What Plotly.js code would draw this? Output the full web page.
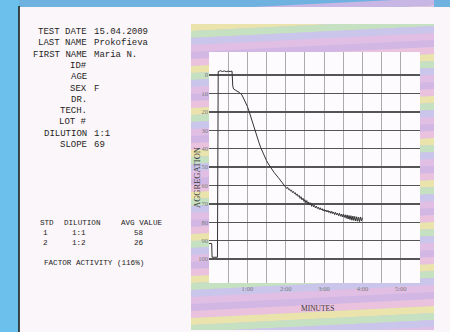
<!DOCTYPE html>
<html>
<head>
<meta charset="utf-8">
<script src="https://cdn.plot.ly/plotly-3.0.1.min.js"></script>
<style>html,body{margin:0;padding:0;background:#6cc0ec;}#chart{width:450px;height:332px;}</style>
</head>
<body>
<div id="chart"></div>
<script>
// ---- data ----
const timeMin = [0.00,0.07,0.08,0.21,0.22,0.24,0.30,0.35,0.40,0.45,0.50,0.55,0.60,0.62,0.64,0.70,0.75,0.80,0.86,0.90,0.95,1.00,1.05,1.10,1.15,1.20,1.25,1.30,1.35,1.40,1.45,1.50,1.55,1.60,1.70,1.80,1.90,
2.000,2.025,2.050,2.075,2.100,2.125,2.150,2.175,2.200,2.225,2.250,2.275,2.300,2.325,2.350,2.375,2.400,2.425,2.450,2.475,2.500,2.525,2.550,2.575,2.600,2.625,2.650,2.675,2.700,2.725,2.750,2.775,2.800,2.825,2.850,2.875,2.900,2.925,2.950,2.975,3.000,3.025,3.050,3.075,3.100,3.125,3.150,3.175,3.200,3.225,3.250,3.275,3.300,3.325,3.350,3.375,3.400,3.425,3.450,3.475,3.500,3.525,3.550,3.575,3.600,3.625,3.650,3.675,3.700,3.725,3.750,3.775,3.800,3.825,3.850,3.875,3.900,3.925,3.950,3.975,4.000];
const aggregation = [91.5,91.5,99,99,99,-2,-2.4,-2.0,-2.3,-1.9,-2.2,-2.0,-2.2,6,7.5,8.3,8.8,9.5,10.8,12.5,14.5,17,20,23.5,26.5,30,33.5,36.5,39.5,42,44.5,46.5,48.3,50,53,55.5,58,
60.9,61.6,61.0,62.2,61.9,63.0,62.5,63.8,63.2,64.4,63.9,65.3,64.6,66.0,65.4,67.0,66.1,67.8,66.9,68.6,67.7,69.4,68.2,70.1,69.0,70.6,69.4,71.3,70.0,71.6,70.8,72.2,71.2,72.5,71.8,73.0,72.1,73.3,72.6,73.8,72.9,74.1,73.3,74.4,73.5,74.7,73.9,75.1,74.0,75.3,74.4,75.8,74.6,76.0,75.0,76.4,75.1,76.7,75.5,77.1,75.6,77.3,75.9,77.8,76.0,78.2,76.3,78.5,76.4,78.9,76.6,79.0,76.8,79.3,77.0,79.4,77.2,79.6,77.1,79.2,77.5];

const xTickVals = [0,0.5,1,1.5,2,2.5,3,3.5,4,4.5,5,5.5];
const xTickText = ['','','1:00','','2:00','','3:00','','4:00','','5:00',''];
const yTickVals = [0,10,20,30,40,50,60,70,80,90,100];

const infoLabels = ['TEST DATE','LAST NAME','FIRST NAME','ID#','AGE','SEX','DR.','TECH.','LOT #','DILUTION','SLOPE'];
const infoValues = ['15.04.2009','Prokofieva','Maria N.','','','F','','','','1:1','69'];

const tableHeader = ['STD','DILUTION','AVG VALUE'];
const stdIds = ['1','2'];
const stdDilutions = ['1:1','1:2'];
const stdAvgValues = ['58','26'];
const factorText = 'FACTOR ACTIVITY (116%)';

// ---- layout helpers (pixel -> paper) ----
const W=450,H=332,ML=209,MR=30,MT=52,MB=49;
const PW=W-ML-MR, PH=H-MT-MB;
const xp = x => (x-ML)/PW;
const yp = y => (H-MB-y)/PH;

const shapes = [];
const rect = (x0,y0,x1,y1,fill) => shapes.push({type:'rect',xref:'paper',yref:'paper',x0:xp(x0),x1:xp(x1),y0:yp(y1),y1:yp(y0),fillcolor:fill,line:{width:0},layer:'below'});
// blue top strip and paper sheet
rect(19,0,450,7,'#70b2df');
rect(19,7,450,332,'#fbf6f9');
shapes.push({type:'line',xref:'paper',yref:'paper',x0:xp(19),x1:xp(19),y0:yp(332),y1:yp(6),line:{color:'#1e1e1e',width:1.6},layer:'below'});
// rainbow frame
rect(191,24,434,330,'#d4c2e2');
const bandColors = ['#d2b6e6','#ecc2de','#ece8a6','#c4e3bf','#c9c6ec','#e2bfe4'];
for (let i=0;i<48;i++){
  const y = 10 + i*7;
  const c = bandColors[i%bandColors.length];
  const p = `M ${xp(191)},${yp(y)} L ${xp(434)},${yp(y-12)} L ${xp(434)},${yp(y-5)} L ${xp(191)},${yp(y+7)} Z`;
  shapes.push({type:'path',xref:'paper',yref:'paper',path:p,fillcolor:c,opacity:0.9,line:{width:0},layer:'below'});
}
rect(185,7,440,24,'#fbf6f9');
rect(185,330,440,332,'#fbf6f9');
rect(434,7,450,332,'#fbf6f9');
rect(185,7,191,332,'#fbf6f9');
// white plotting area
rect(209,52,420,283,'#fdfbfd');

const annotations = [];
const txt = (x,y,text,opts) => annotations.push(Object.assign({xref:'paper',yref:'paper',x:xp(x),y:yp(y),text:text,showarrow:false,yanchor:'middle',borderpad:0,
  font:{family:'Liberation Mono, monospace',size:9,color:'#1f1f1f'}},opts||{}));

infoLabels.forEach((lab,i)=>{
  const y = 32 + i*11.3;
  txt(88,y,lab,{xanchor:'right'});
  if (infoValues[i]) txt(93,y,infoValues[i],{xanchor:'left'});
});
const smallFont = {family:'Liberation Mono, monospace',size:7.6,color:'#222'};
txt(39,223.3,tableHeader[0],{xanchor:'left',font:smallFont});
txt(63,223.3,tableHeader[1],{xanchor:'left',font:smallFont});
txt(120,223.3,tableHeader[2],{xanchor:'left',font:smallFont});
stdIds.forEach((s,i)=>{
  const y = 233.3 + i*10;
  txt(45,y,s,{xanchor:'center',font:smallFont});
  txt(78.5,y,stdDilutions[i],{xanchor:'center',font:smallFont});
  txt(138.5,y,stdAvgValues[i],{xanchor:'center',font:smallFont});
});
txt(43,263.3,factorText,{xanchor:'left',font:smallFont});

// axis titles
txt(197,178,'AGGREGATION',{xanchor:'center',textangle:-90,font:{family:'Liberation Serif, serif',size:8.5,color:'#3a3a3a'}});
txt(317,308,'MINUTES',{xanchor:'center',font:{family:'Liberation Serif, serif',size:7.5,color:'#3a3a3a'}});

const trace = {
  type:'scatter', mode:'lines', x:timeMin, y:aggregation,
  line:{color:'#333',width:1}, hoverinfo:'skip'
};

const layout = {
  width:W,height:H,
  margin:{l:ML,r:MR,t:MT,b:MB,pad:0},
  paper_bgcolor:'#6cc0ec',
  plot_bgcolor:'rgba(0,0,0,0)',
  showlegend:false,
  xaxis:{range:[0,5.5],tickvals:xTickVals,ticktext:xTickText,showgrid:true,gridcolor:'#999',gridwidth:0.8,
    zeroline:false,showline:false,ticks:'',ticklen:0,tickfont:{family:'Liberation Serif, serif',size:6.5,color:'#7a7a7a'},fixedrange:true,automargin:false},
  yaxis:{range:[113,-12.6],tickvals:yTickVals,showgrid:true,gridcolor:'#555',gridwidth:1.4,
    zeroline:false,showline:false,ticks:'',tickfont:{family:'Liberation Serif, serif',size:6.5,color:'#7a7a7a'},fixedrange:true,automargin:false},
  shapes:shapes,
  annotations:annotations
};

Plotly.newPlot('chart',[trace],layout,{displayModeBar:false,staticPlot:true});
</script>
</body>
</html>
